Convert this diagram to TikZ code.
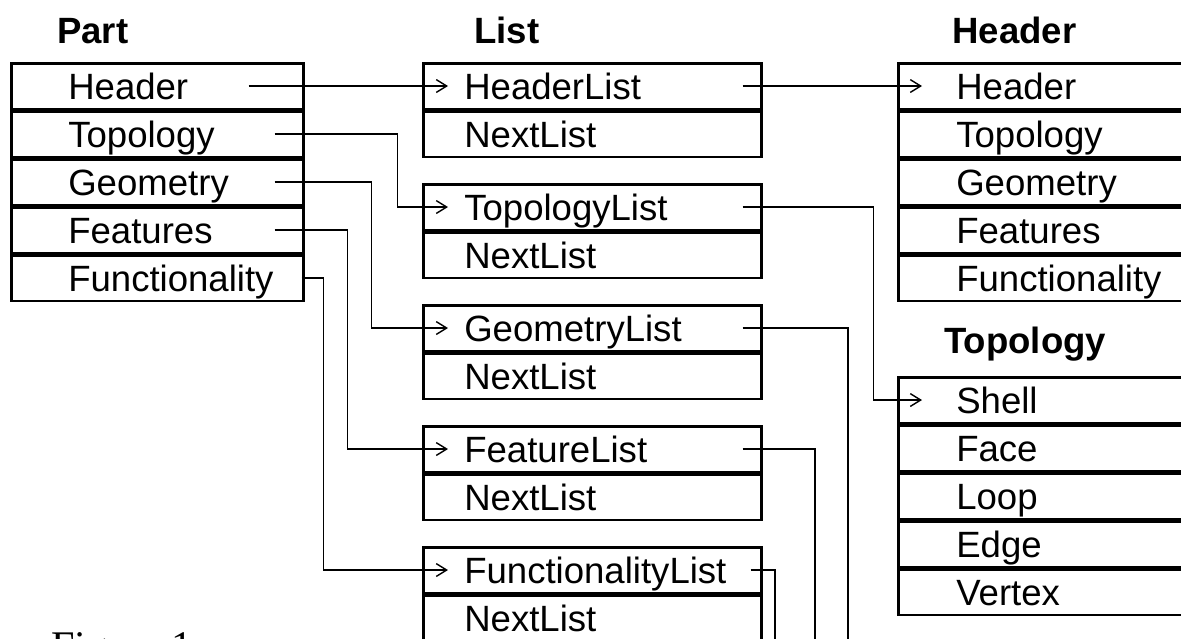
\documentclass[tikz,border=0pt]{standalone}
\usepackage{fontspec}
\setmainfont{Liberation Sans}
\newfontfamily\figfont{Liberation Serif}
\usetikzlibrary{positioning,arrows.meta}

\def\px{0.025cm}

\tikzset{
  field/.style={draw, line width=1.8pt, inner sep=0pt, align=left,
    text height=0.9125cm, text depth=0.225cm,
    font=\fontsize{26}{30}\selectfont},
  partfield/.style={field, text width=7.3cm,
    execute at begin node={\hspace*{1.425cm}}},
  listfield/.style={field, text width=8.45cm,
    execute at begin node={\hspace*{1.025cm}}},
  recfield/.style={field, text width=8cm,
    execute at begin node={\hspace*{1.45cm}}},
  title/.style={inner sep=0pt, anchor=base west,
    font=\fontsize{26}{30}\selectfont\bfseries},
  link/.style={line width=1pt, -{Straight Barb[length=2.6mm,width=3.2mm]}},
  wire/.style={line width=1pt}
}

\begin{document}
\begin{tikzpicture}[x=\px, y=-\px]
    \clip (0,0) rectangle (1181,638);

    % titles
    \node[title] (tPart)     at (57,43)   {Part};
    \node[title] (tList)     at (474,43)  {List};
    \node[title] (tHeader)   at (952,43)  {Header};
    \node[title] (tTopology) at (944,353) {Topology};

    % Part
    \node[partfield, anchor=north west] (pHeader) at (10,62) {Header};
    \node[partfield, below=0pt of pHeader]    (pTopology)      {Topology};
    \node[partfield, below=0pt of pTopology]  (pGeometry)      {Geometry};
    \node[partfield, below=0pt of pGeometry]  (pFeatures)      {Features};
    \node[partfield, below=0pt of pFeatures]  (pFunctionality) {Functionality};

    % List
    \node[listfield, anchor=north west] (lHeader) at (422,62) {HeaderList};
    \node[listfield, below=0pt of lHeader] (lHeaderNext) {NextList};
    \node[listfield, anchor=north west] (lTopology) at (422,183) {TopologyList};
    \node[listfield, below=0pt of lTopology] (lTopologyNext) {NextList};
    \node[listfield, anchor=north west] (lGeometry) at (422,304) {GeometryList};
    \node[listfield, below=0pt of lGeometry] (lGeometryNext) {NextList};
    \node[listfield, anchor=north west] (lFeature) at (422,425) {FeatureList};
    \node[listfield, below=0pt of lFeature] (lFeatureNext) {NextList};
    \node[listfield, anchor=north west] (lFunctionality) at (422,546) {FunctionalityList};
    \node[listfield, below=0pt of lFunctionality] (lFunctionalityNext) {NextList};

    % Header
    \node[recfield, anchor=north west] (rHeader) at (897,62) {Header};
    \node[recfield, below=0pt of rHeader]    (rTopology)      {Topology};
    \node[recfield, below=0pt of rTopology]  (rGeometry)      {Geometry};
    \node[recfield, below=0pt of rGeometry]  (rFeatures)      {Features};
    \node[recfield, below=0pt of rFeatures]  (rFunctionality) {Functionality};

    % Topology
    \node[recfield, anchor=north west] (rShell) at (897,376) {Shell};
    \node[recfield, below=0pt of rShell] (rFace)   {Face};
    \node[recfield, below=0pt of rFace]  (rLoop)   {Loop};
    \node[recfield, below=0pt of rLoop]  (rEdge)   {Edge};
    \node[recfield, below=0pt of rEdge]  (rVertex) {Vertex};

    \node[inner sep=0pt, anchor=base west, font=\figfont\fontsize{30}{34}\selectfont]
        (fig) at (51,660) {Figure 1};

    % Part -> List
    \draw[link] ([xshift=-56*\px]pHeader.east) -- ([xshift=26*\px]lHeader.west);
    \draw[link] ([xshift=-30*\px]pTopology.east) -- ++(123,0) |- ([xshift=26*\px]lTopology.west);
    \draw[link] ([xshift=-30*\px]pGeometry.east) -- ++(97,0) |- ([xshift=26*\px]lGeometry.west);
    \draw[link] ([xshift=-30*\px]pFeatures.east) -- ++(73,0) |- ([xshift=26*\px]lFeature.west);
    \draw[link] ([xshift=-3*\px]pFunctionality.east) -- ++(22,0) |- ([xshift=26*\px]lFunctionality.west);

    % List -> records
    \coordinate (eGeometry)      at (848,650);
    \coordinate (eFeature)       at (815,650);
    \coordinate (eFunctionality) at (775,650);

    \draw[link] ([xshift=-20*\px]lHeader.east) -- ([xshift=25*\px]rHeader.west);
    \draw[link] ([xshift=-20*\px]lTopology.east) -- ++(131,0) |- ([xshift=25*\px]rShell.west);
    \draw[wire] ([xshift=-20*\px]lGeometry.east) -| (eGeometry);
    \draw[wire] ([xshift=-20*\px]lFeature.east) -| (eFeature);
    \draw[wire] ([xshift=-12*\px]lFunctionality.east) -| (eFunctionality);
\end{tikzpicture}
\end{document}
